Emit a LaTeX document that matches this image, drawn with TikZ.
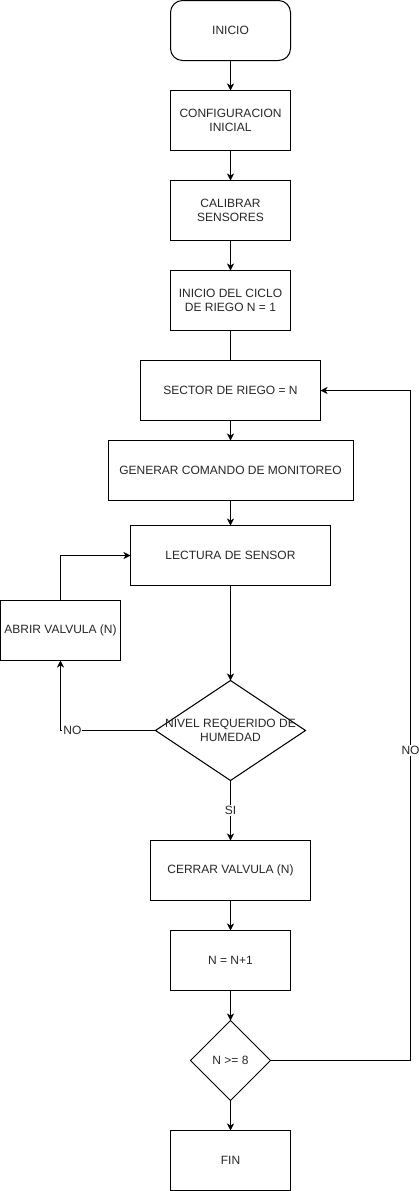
\documentclass[tikz,border=0pt]{standalone}
\usepackage{fontspec}
\setmainfont{Liberation Sans}
\usetikzlibrary{shapes.geometric,arrows.meta}
\begin{document}
\begin{tikzpicture}[x=1pt,y=-1pt,
  every node/.style={font=\fontsize{12}{14.5}\selectfont, text=black!85},
  box/.style={draw, line width=1pt, rectangle, minimum height=60pt, inner sep=2pt, outer sep=0pt, align=center},
  rbox/.style={box, rounded corners=12pt},
  dia/.style={draw, line width=1pt, diamond, inner sep=0pt, outer sep=0pt},
  arr/.style={line width=1pt, -{Stealth[length=7pt,width=7pt,inset=2pt]}},
  con/.style={line width=1pt},
  lbl/.style={fill=white, inner sep=1pt}]
\useasboundingbox (0,0) rectangle (419,1191);
\node[rbox, minimum width=120pt] (inicio) at (230.5,30.5) {INICIO};
\node[box, minimum width=120pt] (config) at (230.5,120.5) {CONFIGURACION\\INICIAL};
\node[box, minimum width=120pt] (calib) at (230.5,210.5) {CALIBRAR\\SENSORES};
\node[box, minimum width=120pt] (ciclo) at (230.5,300.5) {INICIO DEL CICLO\\DE RIEGO N = 1};
\node[box, minimum width=180pt] (sector) at (230.5,390.5) {SECTOR DE RIEGO = N};
\node[box, minimum width=245pt] (generar) at (230.5,470.5) {GENERAR COMANDO DE MONITOREO};
\node[box, minimum width=200pt] (lectura) at (230.5,555.5) {LECTURA DE SENSOR};
\node[box, minimum width=120pt] (abrir) at (60.5,630.5) {ABRIR VALVULA (N)};
\node[dia, minimum width=150pt, minimum height=100pt] (d1) at (230.5,730.5) {};
\node[align=center] (d1t) at (d1.center) {NIVEL REQUERIDO DE\\HUMEDAD};
\node[box, minimum width=160pt] (cerrar) at (230.5,870.5) {CERRAR VALVULA (N)};
\node[box, minimum width=120pt] (ninc) at (230.5,960.5) {N = N+1};
\node[dia, minimum width=80pt, minimum height=80pt] (d2) at (230.5,1060.5) {};
\node (d2t) at (d2.center) {N >= 8};
\node[box, minimum width=120pt] (fin) at (230.5,1160.5) {FIN};
\coordinate (r1) at (410.5,1060.5);
\coordinate (r2) at (410.5,390.5);

\draw[arr] (inicio) -- (config);
\draw[arr] (config) -- (calib);
\draw[arr] (calib) -- (ciclo);
\draw[con] (ciclo) -- (sector);
\draw[arr] (sector) -- (generar);
\draw[arr] (generar) -- (lectura);
\draw[arr] (lectura) -- (d1);
\draw[arr] (d1.west) -| node[lbl, pos=0.437] {NO} (abrir.south);
\draw[arr] (abrir.north) |- (lectura.west);
\draw[arr] (d1.south) -- node[lbl] {SI} (cerrar.north);
\draw[arr] (cerrar) -- (ninc);
\draw[arr] (ninc) -- (d2);
\draw[arr] (d2) -- (fin);
\draw[arr] (d2.east) -- (r1) -- node[lbl, pos=0.463] {NO} (r2) -- (sector.east);
\end{tikzpicture}
\end{document}
